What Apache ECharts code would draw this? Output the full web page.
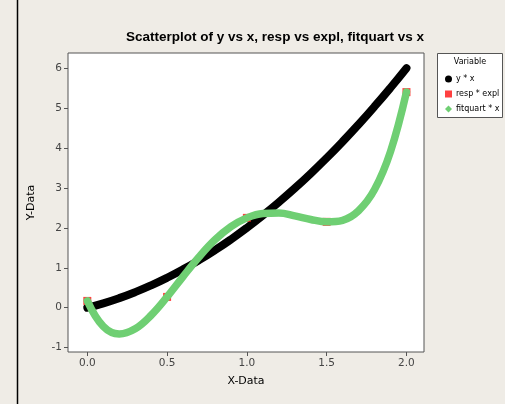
<!DOCTYPE html>
<html><head><meta charset="utf-8">
<script src="https://cdn.jsdelivr.net/npm/echarts@6/dist/echarts.min.js"></script>
<style>html,body{margin:0;padding:0;background:#EFECE6}#c{width:505px;height:404px}</style>
</head><body><div id="c"></div>
<script>
// y * x
const xVals = [0,0.1,0.2,0.3,0.4,0.5,0.6,0.7,0.8,0.9,1.0,1.1,1.2,1.3,1.4,1.5,1.6,1.7,1.8,1.9,2.0];
const yVals = [0,0.11,0.24,0.39,0.56,0.75,0.96,1.19,1.44,1.71,2.0,2.31,2.64,2.99,3.36,3.75,4.16,4.59,5.04,5.51,6.0];
// resp * expl
const expl = [0,0.5,1.0,1.5,2.0];
const resp = [0.17,0.27,2.25,2.15,5.4];
// fitquart * x
const fitVals = [0.17,-0.47,-0.66,-0.53,-0.19,0.27,0.78,1.27,1.70,2.03,2.25,2.36,2.37,2.30,2.21,2.15,2.19,2.43,2.96,3.91,5.4];
const xTicks = [0,0.5,1.0,1.5,2.0];
const yTicks = [-1,0,1,2,3,4,5,6];
const names = ['y * x','resp * expl','fitquart * x'];

const zip = (a,b)=>a.map((v,i)=>[v,b[i]]);
const F = 'DejaVu Sans';
const chart = echarts.init(document.getElementById('c'));
chart.setOption({
  backgroundColor:'#EFECE6',
  animation:false,
  title:{text:'Scatterplot of y vs x, resp vs expl, fitquart vs x',left:270,textAlign:'center',top:25,
    textStyle:{fontFamily:'Liberation Sans',fontWeight:'bold',fontSize:13.5,color:'#000'}},
  grid:{left:68,top:53,right:81,bottom:52,show:true,backgroundColor:'#fff',borderColor:'#555',borderWidth:1},
  xAxis:{type:'value',min:-0.121,max:2.11,name:'X-Data',nameLocation:'middle',nameGap:24,
    nameTextStyle:{fontFamily:F,fontSize:11,color:'#000'},
    axisLine:{show:false,onZero:false},splitLine:{show:false},
    axisTick:{show:true,inside:false,length:4,lineStyle:{color:'#555'},customValues:xTicks},
    axisLabel:{margin:6,fontFamily:F,fontSize:10.5,color:'#444',customValues:xTicks,formatter:v=>v.toFixed(1)}},
  yAxis:{type:'value',min:-1.11,max:6.38,name:'Y-Data',nameLocation:'middle',nameGap:31,nameRotate:90,
    nameTextStyle:{fontFamily:F,fontSize:11,color:'#000'},
    axisLine:{show:false,onZero:false},splitLine:{show:false},
    axisTick:{show:true,inside:false,length:4,lineStyle:{color:'#555'},customValues:yTicks},
    axisLabel:{margin:6,fontFamily:F,fontSize:10.5,color:'#444',customValues:yTicks,formatter:v=>String(v)}},
  legend:{orient:'vertical',left:440,top:70,itemWidth:7,itemHeight:7,itemGap:7,
    textStyle:{fontFamily:F,fontSize:8,color:'#000',padding:[0,0,0,-1]},
    data:[{name:names[0],icon:'circle'},{name:names[1],icon:'rect'},{name:names[2],icon:'diamond'}]},
  graphic:[
    {type:'line',shape:{x1:17.5,y1:0,x2:17.5,y2:404},style:{stroke:'#000',lineWidth:1.5}},
    {type:'rect',shape:{x:437.5,y:53.5,width:65,height:64},style:{fill:'#fff',stroke:'#555',lineWidth:1},z:-1},
    {type:'text',x:470,y:58,style:{text:'Variable',fontFamily:F,fontSize:8,fill:'#000',textAlign:'center'}}
  ],
  series:[
    {name:names[0],type:'line',data:zip(xVals,yVals),smooth:true,showSymbol:false,symbol:'circle',
      itemStyle:{color:'#000'},lineStyle:{color:'#000',width:8,cap:'round'},z:2},
    {name:names[1],type:'scatter',data:zip(expl,resp),symbol:'rect',symbolSize:8,itemStyle:{color:'#FF1010'},z:3},
    {name:names[2],type:'line',data:zip(xVals,fitVals),smooth:0.4,showSymbol:false,symbol:'diamond',
      itemStyle:{color:'#6FCF73'},lineStyle:{color:'#6FCF73',width:7.5,cap:'round'},z:4}
  ]
});
</script></body></html>
